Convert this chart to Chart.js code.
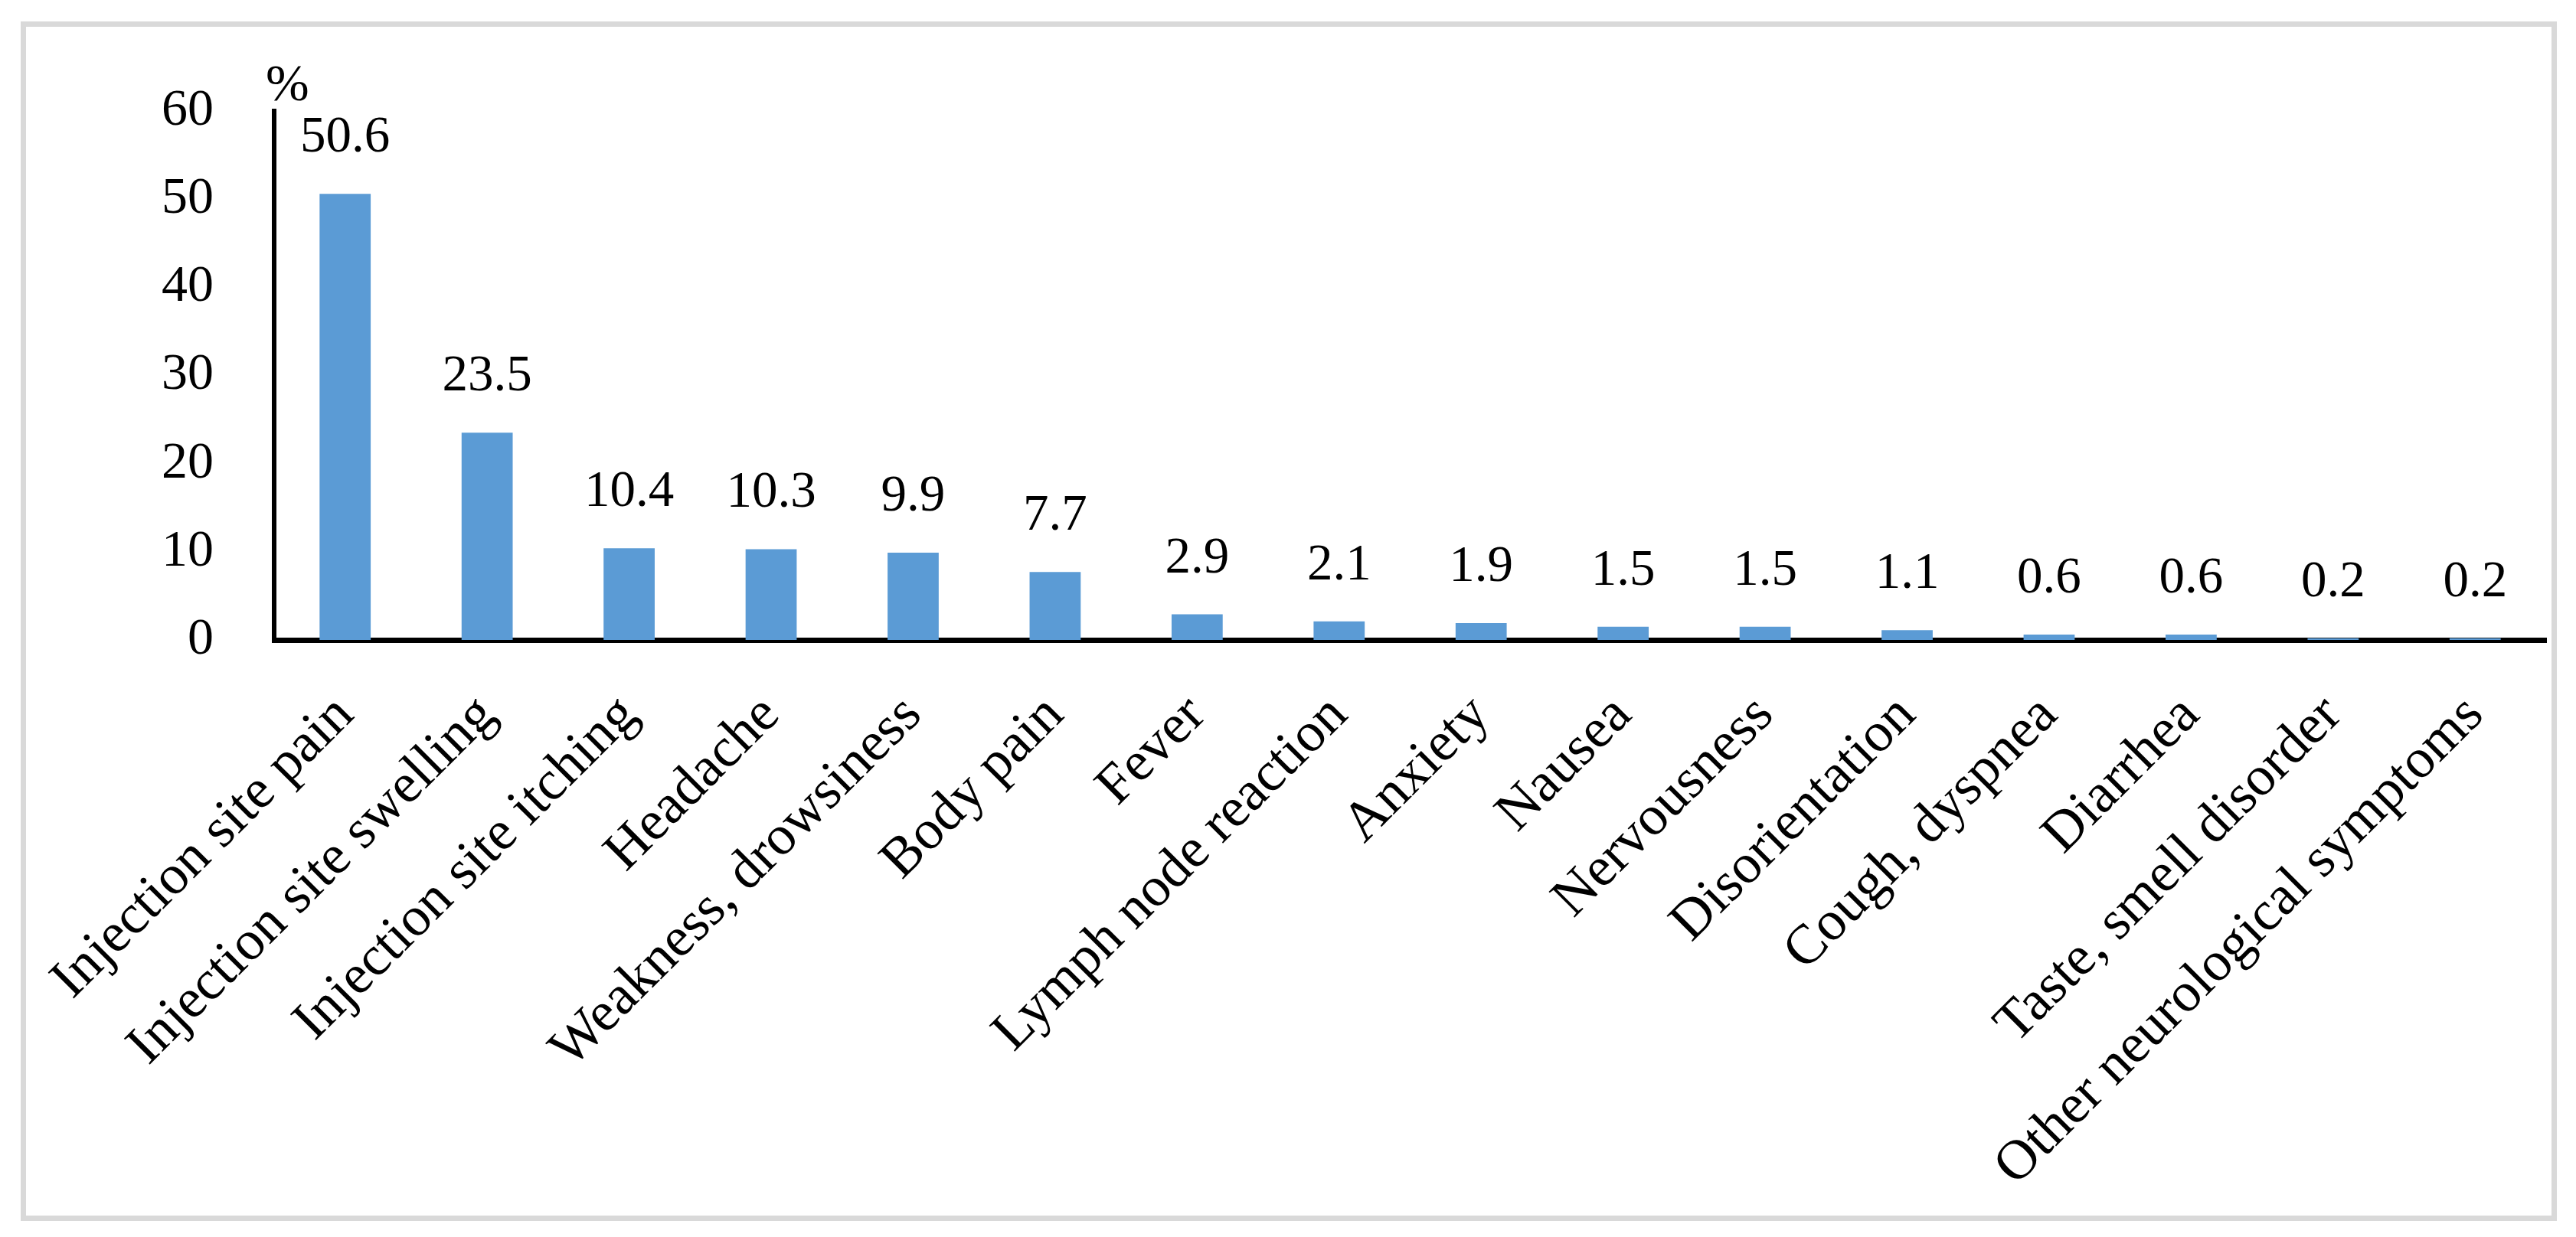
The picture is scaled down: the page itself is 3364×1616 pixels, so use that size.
<!DOCTYPE html>
<html>
<head>
<meta charset="utf-8">
<title>Adverse reactions</title>
<script src="https://cdn.jsdelivr.net/npm/chart.js@4.4.1/dist/chart.umd.min.js"></script>
<style>
  html, body { margin: 0; padding: 0; background: #ffffff; }
  #wrap { position: relative; width: 3364px; height: 1616px; }
  #frame {
    position: absolute; left: 27px; top: 28px; width: 3312px; height: 1567px;
    box-sizing: border-box; border: 7px solid #d9d9d9; pointer-events: none;
  }
  canvas { position: absolute; left: 0; top: 0; }
</style>
</head>
<body>
<div id="wrap">
  <canvas id="symptomsChart" width="3364" height="1616"></canvas>
  <div id="frame"></div>
</div>
<script>
// chart data
var categories = ['Injection site pain', 'Injection site swelling', 'Injection site itching', 'Headache',
  'Weakness, drowsiness', 'Body pain', 'Fever', 'Lymph node reaction', 'Anxiety', 'Nausea',
  'Nervousness', 'Disorientation', 'Cough, dyspnea', 'Diarrhea', 'Taste, smell disorder',
  'Other neurological symptoms'];
var percentValues = [50.6, 23.5, 10.4, 10.3, 9.9, 7.7, 2.9, 2.1, 1.9, 1.5, 1.5, 1.1, 0.6, 0.6, 0.2, 0.2];
var yTicks = [0, 10, 20, 30, 40, 50, 60];

var serif = '"Liberation Serif", "Times New Roman", serif';

// value labels above the bars + the "%" unit at the top of the axis
var barLabels = {
  id: 'barLabels',
  afterDatasetsDraw: function (chart) {
    var c = chart.ctx;
    var area = chart.chartArea;
    c.save();
    c.fillStyle = '#000000';
    c.font = '67px ' + serif;
    c.textAlign = 'center';
    c.textBaseline = 'alphabetic';
    chart.getDatasetMeta(0).data.forEach(function (bar, i) {
      c.fillText(percentValues[i].toFixed(1), bar.x, bar.y - 55);
    });
    c.font = '68px ' + serif;
    c.textAlign = 'left';
    c.fillText('%', area.left - 11, area.top - 14);
    c.restore();
  }
};

var ctx = document.getElementById('symptomsChart').getContext('2d');
var symptomsChart = new Chart(ctx, {
  type: 'bar',
  data: {
    labels: categories,
    datasets: [{
      label: '%',
      data: percentValues,
      backgroundColor: '#5b9bd5',
      barPercentage: 0.36,
      categoryPercentage: 1.0
    }]
  },
  options: {
    responsive: false,
    animation: false,
    layout: {
      padding: { left: 0, right: 39, top: 145, bottom: 0 }
    },
    scales: {
      x: {
        z: 1,
        grid: { display: false },
        border: { display: true, color: '#000000', width: 7 },
        ticks: {
          color: '#000000',
          font: { family: serif, size: 73 },
          minRotation: 45,
          maxRotation: 45,
          autoSkip: false,
          padding: 48
        },
        afterFit: function (scale) {
          scale.height = 780; // room for the slanted labels
        }
      },
      y: {
        min: 0,
        max: 60,
        grid: { display: false },
        border: { display: true, color: '#000000', width: 6 },
        afterBuildTicks: function (scale) {
          scale.ticks = yTicks.map(function (v) { return { value: v }; });
        },
        ticks: {
          color: '#000000',
          font: { family: serif, size: 68 },
          padding: 71
        },
        afterFit: function (scale) {
          scale.width = 358;
        }
      }
    },
    plugins: {
      legend: { display: false },
      tooltip: { enabled: false }
    }
  },
  plugins: [barLabels]
});
</script>
</body>
</html>
